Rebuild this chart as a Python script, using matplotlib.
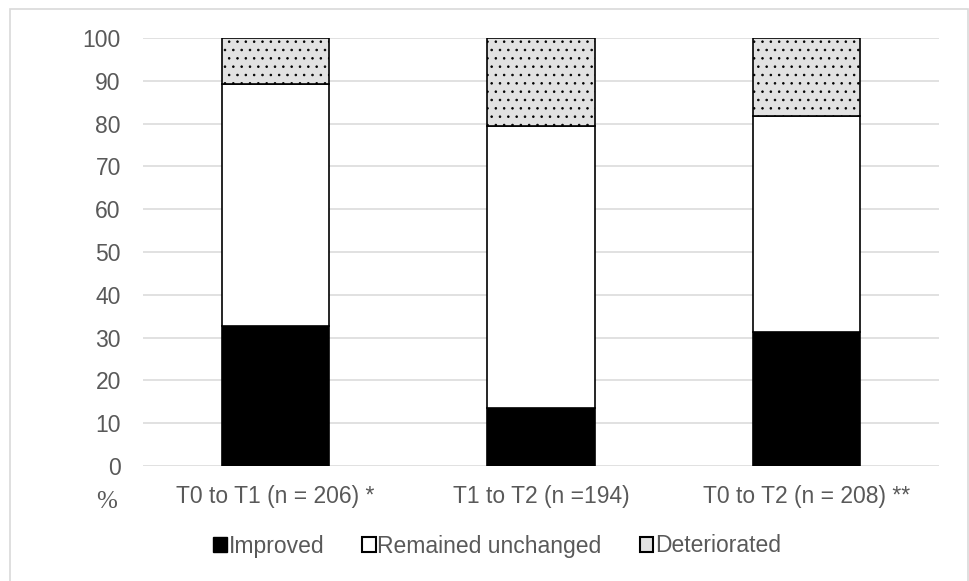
import matplotlib
matplotlib.use("Agg")
import matplotlib.pyplot as plt
from matplotlib.patches import Rectangle, Patch

categories = ["T0 to T1 (n = 206) *", "T1 to T2 (n =194)", "T0 to T2 (n = 208) **"]
improved = [32.6, 13.5, 31.3]
unchanged = [56.7, 65.9, 50.5]
deteriorated = [10.7, 20.6, 18.2]
yticks = list(range(0, 101, 10))

plt.rcParams["font.family"] = ["Liberation Sans", "DejaVu Sans"]
plt.rcParams["hatch.linewidth"] = 0.6
txt = "#595959"

fig = plt.figure(figsize=(9.69, 5.81), dpi=100)
ax = fig.add_axes([143 / 969, 1 - 466 / 581, (939 - 143) / 969, (466 - 38) / 581])

x = range(len(categories))
w = 0.405
ax.bar(x, improved, w, color="black", edgecolor="black", linewidth=1.2, zorder=3)
ax.bar(x, unchanged, w, bottom=improved, color="white", edgecolor="black", linewidth=1.2, zorder=3)
bot2 = [a + b for a, b in zip(improved, unchanged)]
ax.bar(x, deteriorated, w, bottom=bot2, color="#e2e2e2", edgecolor="black", linewidth=1.2,
       hatch="..", zorder=3)

ax.set_xlim(-0.5, 2.5)
ax.set_ylim(0, 100)
ax.set_yticks(yticks)
ax.set_xticks(list(x))
ax.set_xticklabels(categories)
ax.tick_params(length=0, labelsize=16.5, colors=txt)
ax.tick_params(axis="y", pad=16)
ax.tick_params(axis="x", pad=14)
ax.yaxis.grid(True, color="#dedede", linewidth=1.3, zorder=0)
for s in ax.spines.values():
    s.set_visible(False)

fig.text(107 / 969, 1 - 502 / 581, "%", family="Liberation Serif", fontsize=18, color=txt,
         ha="center", va="center")

handles = [Patch(facecolor="black", edgecolor="black"),
           Patch(facecolor="white", edgecolor="black", linewidth=1.5),
           Patch(facecolor="#e2e2e2", edgecolor="black", linewidth=1.5)]
leg = fig.legend(handles, ["Improved", "Remained unchanged", "Deteriorated"], loc="center",
                 bbox_to_anchor=(497 / 969, 1 - 546 / 581), ncol=3, frameon=False,
                 fontsize=16.5, handlelength=0.6, handleheight=0.6, handletextpad=0.08,
                 columnspacing=1.65)
for t in leg.get_texts():
    t.set_color(txt)

fig.patches.append(Rectangle((10 / 969, -0.05), 958 / 969, 1 - 9 / 581 + 0.05,
                             transform=fig.transFigure, fill=False, edgecolor="#d9d9d9",
                             linewidth=1.2))

fig.savefig("out.png", dpi=100)
